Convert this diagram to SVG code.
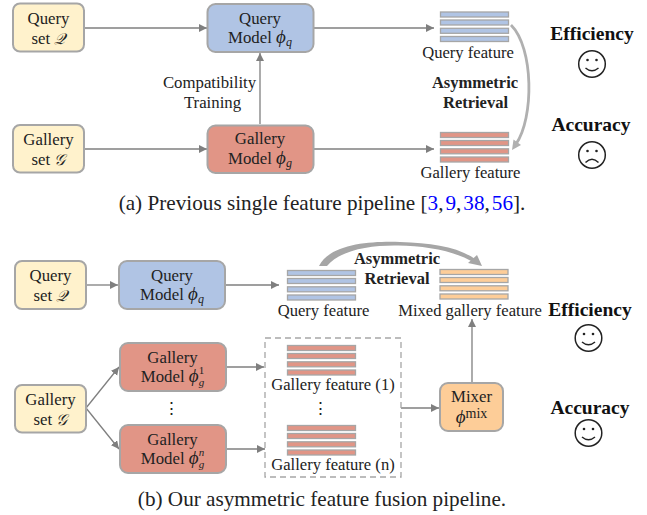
<svg xmlns="http://www.w3.org/2000/svg" width="647" height="515" viewBox="0 0 647 515">
<style>
text{font-family:"Liberation Serif","Times New Roman",serif;fill:#222;text-anchor:middle}
.n{font-size:16.8px}
.f{font-size:16.6px}
.b{font-size:16.5px;font-weight:bold}
.h{font-size:19.5px;font-weight:bold;fill:#111}
.c{font-size:21.2px;fill:#222}
.m{font-style:italic;font-size:19px}
.k{font-size:15.5px}
.s{font-size:12px;font-style:italic}
.box{stroke:#a6a6a6;stroke-width:2}
.y{fill:#fff2cc}.bl{fill:#b0c4e4}.r{fill:#e19586}.o{fill:#fdcd98}
.bb{fill:#b0c4e4;stroke:#a6a6a6;stroke-width:1.300}
.br{fill:#e19586;stroke:#a6a6a6;stroke-width:1.300}
.bo{fill:#fdcd98;stroke:#a6a6a6;stroke-width:1.300}
.l{stroke:#7f7f7f;stroke-width:1.300;fill:none;marker-end:url(#a)}
.face{fill:none;stroke:#222;stroke-width:1.500}
.e{fill:#222}
</style>
<defs>
<marker id="a" markerUnits="userSpaceOnUse" markerWidth="9" markerHeight="9" refX="8" refY="4" orient="auto"><path d="M0 0L8 4L0 8Z" fill="#7f7f7f"/></marker>
<g id="bars-b"><rect class="bb" x="0" y="0" width="68" height="5"/><rect class="bb" x="0" y="8" width="68" height="5"/><rect class="bb" x="0" y="16.300" width="68" height="5"/><rect class="bb" x="0" y="24.500" width="68" height="5"/></g>
<g id="bars-r"><rect class="br" x="0" y="0" width="68" height="5"/><rect class="br" x="0" y="8" width="68" height="5"/><rect class="br" x="0" y="16.300" width="68" height="5"/><rect class="br" x="0" y="24.500" width="68" height="5"/></g>
<g id="bars-o"><rect class="bo" x="0" y="0" width="68" height="5"/><rect class="bo" x="0" y="8" width="68" height="5"/><rect class="bo" x="0" y="16.300" width="68" height="5"/><rect class="bo" x="0" y="24.500" width="68" height="5"/></g>
<g id="smile"><circle class="face" r="13.300"/><circle class="e" cx="-4.500" cy="-4" r="1.300"/><circle class="e" cx="4.500" cy="-4" r="1.300"/><path class="face" d="M-6.500 4Q0 9.500 6.500 4"/></g>
<g id="frown"><circle class="face" r="13.300"/><circle class="e" cx="-4.500" cy="-4" r="1.300"/><circle class="e" cx="4.500" cy="-4" r="1.300"/><path class="face" d="M-6.500 7.500Q0 1 6.500 7.500"/></g>
</defs>

<g id="connectors">
<path class="l" d="M85 28H207"/>
<path class="l" d="M314 28H434"/>
<path class="l" d="M85 149H207"/>
<path class="l" d="M314 149H434"/>
<path class="l" d="M260 124V53"/>
<path class="l" d="M86 285H118"/>
<path class="l" d="M226 285H279"/>
<path class="l" d="M86 408L119 367"/>
<path class="l" d="M86 408L119 449"/>
<path class="l" d="M226 367H264"/>
<path class="l" d="M226 449H265"/>
<path class="l" d="M401 408H439"/>
<path class="l" d="M472 382V319"/>
<path d="M511 25C534 48 534 118 516 144" fill="none" stroke="#b0b0b0" stroke-width="2.800"/>
<path d="M512 150L513.500 139.500L521 145Z" fill="#b0b0b0"/>
<path d="M319 266C330 244 370 241 400 242C432 243 458 247 475 259L473 262C452 250 425 246 398 245.500C370 245 340 250 327 266Z" fill="#a6a6a6"/>
<path d="M482 266L468 263L477 255Z" fill="#a6a6a6"/>
</g>

<g id="query-set-a"><rect class="box y" x="13" y="3.500" width="71" height="48" rx="7"/><text class="n" x="48.500" y="24">Query</text><text class="n" x="48.500" y="44">set <tspan class="m k">𝒬</tspan></text></g>
<g id="query-model-a"><rect class="box bl" x="207.500" y="4" width="106" height="48" rx="8"/><text class="n" x="260" y="24">Query</text><text class="n" x="260" y="43">Model <tspan class="m">ϕ</tspan><tspan class="s" dy="3">q</tspan></text></g>
<g id="gallery-set-a"><rect class="box y" x="13" y="125" width="71" height="47.500" rx="7"/><text class="n" x="48.500" y="145">Gallery</text><text class="n" x="48.500" y="165">set <tspan class="m k">𝒢</tspan></text></g>
<g id="gallery-model-a"><rect class="box r" x="207.500" y="125.500" width="106" height="47.500" rx="8"/><text class="n" x="260" y="144">Gallery</text><text class="n" x="260" y="164">Model <tspan class="m">ϕ</tspan><tspan class="s" dy="3">g</tspan></text></g>
<g id="compat"><text class="n" x="209.500" y="88">Compatibility</text><text class="n" x="212.500" y="108">Training</text></g>
<g id="query-feature-a"><use href="#bars-b" x="440.500" y="12"/><text class="f" x="468" y="58">Query feature</text></g>
<g id="gallery-feature-a"><use href="#bars-r" x="440.500" y="132.500"/><text class="f" x="470.500" y="178">Gallery feature</text></g>
<g id="retrieval-a"><text class="b" x="475" y="88">Asymmetric</text><text class="b" x="475.500" y="108">Retrieval</text></g>
<g id="eff-a"><text class="h" x="592" y="40">Efficiency</text><use href="#smile" x="592" y="64"/></g>
<g id="acc-a"><text class="h" x="591" y="131">Accuracy</text><use href="#frown" x="592" y="155"/></g>
<text id="cap-a" class="c" x="322" y="209.500">(a) Previous single feature pipeline [<tspan fill="#0000ff">3</tspan>,<tspan fill="#0000ff" dx="2">9</tspan>,<tspan fill="#0000ff" dx="2">38</tspan>,<tspan fill="#0000ff" dx="2">56</tspan>].</text>

<g id="query-set-b"><rect class="box y" x="15" y="261" width="71" height="48" rx="7"/><text class="n" x="50.500" y="281">Query</text><text class="n" x="50.500" y="301">set <tspan class="m k">𝒬</tspan></text></g>
<g id="query-model-b"><rect class="box bl" x="119" y="261" width="106" height="48" rx="8"/><text class="n" x="172" y="281">Query</text><text class="n" x="172" y="300">Model <tspan class="m">ϕ</tspan><tspan class="s" dy="3">q</tspan></text></g>
<g id="gallery-set-b"><rect class="box y" x="15" y="385" width="71" height="47.500" rx="7"/><text class="n" x="50.500" y="405">Gallery</text><text class="n" x="50.500" y="425">set <tspan class="m k">𝒢</tspan></text></g>
<g id="gallery-model-1"><rect class="box r" x="120" y="343" width="106" height="48" rx="8"/><text class="n" x="172.500" y="363">Gallery</text><text class="n" x="172.500" y="382">Model <tspan class="m">ϕ</tspan><tspan dy="-8" style="font-size:11px">1</tspan><tspan class="s" dy="12" dx="-5.500" style="font-size:11px">g</tspan></text></g>
<text class="n" x="171" y="414">⋮</text>
<g id="gallery-model-n"><rect class="box r" x="120" y="425" width="106" height="48" rx="8"/><text class="n" x="172.500" y="445">Gallery</text><text class="n" x="172.500" y="464">Model <tspan class="m">ϕ</tspan><tspan class="s" dy="-8" style="font-size:11px">n</tspan><tspan class="s" dy="12" dx="-5.500" style="font-size:11px">g</tspan></text></g>
<g id="query-feature-b"><use href="#bars-b" x="287.500" y="270.500"/><text class="f" x="323.500" y="316">Query feature</text></g>
<g id="mixed-feature"><use href="#bars-o" x="440" y="269.500"/><text class="f" x="470" y="316">Mixed gallery feature</text></g>
<g id="retrieval-b"><text class="b" x="397" y="264">Asymmetric</text><text class="b" x="397" y="284">Retrieval</text></g>
<rect id="dashed-group" x="265" y="338" width="136" height="139" fill="none" stroke="#a6a6a6" stroke-width="1.300" stroke-dasharray="6 4"/>
<g id="gallery-feature-1"><use href="#bars-r" x="287.500" y="345.500"/><text class="f" x="333" y="390">Gallery feature (1)</text></g>
<text class="n" x="320" y="414">⋮</text>
<g id="gallery-feature-n"><use href="#bars-r" x="287.500" y="425.500"/><text class="f" x="333" y="470">Gallery feature (n)</text></g>
<g id="mixer"><rect class="box o" x="440" y="383" width="63" height="48" rx="8"/><text class="n" x="471.500" y="402">Mixer</text><text class="n" x="471.500" y="423"><tspan class="m">ϕ</tspan><tspan dy="-5" style="font-size:14px">mix</tspan></text></g>
<g id="eff-b"><text class="h" x="590" y="316">Efficiency</text><use href="#smile" x="588.500" y="338"/></g>
<g id="acc-b"><text class="h" x="590" y="414">Accuracy</text><use href="#smile" x="588.500" y="433"/></g>
<text id="cap-b" class="c" x="322" y="506">(b) Our asymmetric feature fusion pipeline.</text>
</svg>
